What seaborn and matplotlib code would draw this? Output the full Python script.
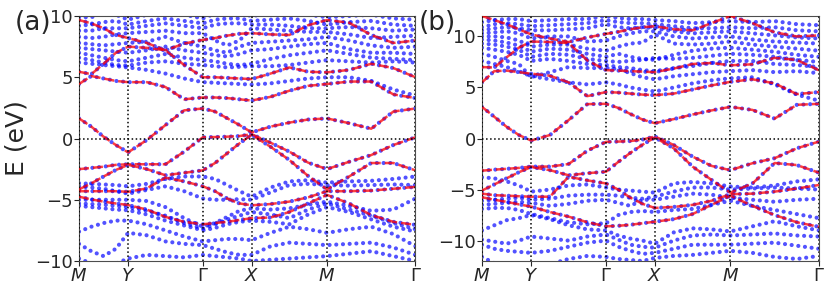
import numpy as np
import pandas as pd
import seaborn as sns
import matplotlib.pyplot as plt

sns.set_style("ticks")

# high-symmetry path: labels and node positions (fraction of total path length)
kpoints = ["$M$", "$Y$", r"$\Gamma$", "$X$", "$M$", r"$\Gamma$"]
knodes = [0.0, 0.146, 0.368, 0.513, 0.737, 1.0]
nsub = 4  # samples per segment, energies read at 0, 1/4, 1/2, 3/4 of each segment

# ---------------- panel (a) ----------------
# red dashed bands (sorted by energy at each k)
a_r1 = [-4.75, -4.97, -5.15, -5.3, -5.43, -5.8, -6.4, -6.8, -7.0, -6.9, -6.8, -6.65, -6.5, -6.45, -6.0, -5.3, -4.6, -5.3, -6.25, -6.8, -7.05]
a_r2 = [-4.3, -4.3, -4.3, -4.3, -4.35, -4.07, -3.2, -3.5, -3.9, -4.3, -4.9, -5.3, -5.45, -5.35, -5.15, -4.8, -4.3, -4.3, -4.25, -4.1, -3.95]
a_r3 = [-4.15, -3.66, -3.1, -2.57, -2.15, -2.5, -3.0, -2.8, -2.6, -2.0, -1.2, -0.4, 0.3, -0.67, -1.75, -3.06, -4.15, -3.1, -2.0, -2.0, -2.6]
a_r4 = [-2.5, -2.4, -2.3, -2.15, -2.1, -2.1, -2.1, -1.07, 0.1, 0.12, 0.15, 0.2, 0.35, -0.34, -1.07, -1.97, -2.5, -1.9, -1.35, -0.53, 0.1]
a_r5 = [1.64, 0.97, 0.15, -0.53, -1.13, -0.12, 1.1, 2.3, 2.45, 2.2, 1.65, 1.1, 0.5, 0.97, 1.3, 1.55, 1.64, 1.25, 0.8, 2.2, 2.45]
a_r6 = [4.45, 5.1, 4.9, 4.7, 4.6, 4.6, 4.2, 3.2, 3.35, 3.35, 3.3, 3.2, 3.1, 3.4, 3.9, 4.3, 4.45, 4.65, 4.65, 3.6, 3.3]
a_r7 = [5.45, 5.25, 6.1, 7.0, 7.5, 7.4, 7.2, 6.0, 5.0, 5.0, 4.95, 4.9, 4.85, 5.3, 5.8, 5.45, 5.4, 5.6, 6.1, 5.75, 5.0]
a_r8 = [9.67, 9.4, 9.0, 8.45, 8.2, 7.8, 7.2, 7.75, 8.05, 8.2, 8.4, 8.55, 8.6, 8.5, 8.45, 9.25, 9.67, 9.45, 8.45, 7.8, 8.0]
# extra blue-only bands
a_u1 = [6.2, 6.1, 6.0, 5.9, 5.8, 5.6, 5.3, 4.9, 4.6, 4.55, 4.5, 4.45, 4.4, 4.5, 4.7, 4.9, 5.0, 5.0, 4.7, 4.0, 3.5]
a_u2 = [6.6, 6.4, 6.2, 6.0, 5.95, 6.2, 6.3, 6.1, 6.0, 5.9, 5.8, 5.85, 5.9, 5.9, 6.0, 6.2, 6.4, 6.3, 6.2, 6.3, 6.2]
a_u3 = [7.0, 6.8, 6.6, 6.4, 6.3, 6.6, 6.9, 6.6, 6.4, 6.3, 6.1, 6.0, 6.1, 6.5, 6.8, 7.0, 7.2, 6.9, 6.6, 6.5, 6.4]
a_u4 = [7.4, 7.3, 7.2, 7.1, 7.0, 7.2, 7.5, 7.2, 7.0, 6.8, 6.7, 6.9, 7.2, 7.3, 7.5, 7.7, 7.8, 7.3, 7.0, 7.0, 6.9]
a_u5 = [7.8, 7.7, 7.6, 7.7, 7.8, 7.9, 8.3, 7.8, 7.5, 7.2, 7.0, 7.5, 7.8, 7.9, 8.0, 8.1, 8.3, 8.0, 7.6, 7.4, 7.5]
a_u6 = [8.3, 8.2, 8.3, 8.5, 8.6, 8.7, 8.8, 8.6, 8.6, 8.0, 7.6, 8.0, 9.0, 8.9, 8.8, 8.7, 8.7, 8.5, 8.2, 8.3, 8.4]
a_u7 = [8.8, 8.8, 9.0, 9.0, 9.0, 9.2, 9.4, 9.2, 9.0, 9.3, 9.4, 9.4, 9.3, 9.3, 9.2, 9.0, 9.0, 9.1, 9.0, 8.8, 8.9]
a_u8 = [9.2, 9.3, 9.5, 9.6, 9.3, 9.6, 9.8, 9.6, 9.4, 9.7, 9.8, 9.8, 9.6, 9.7, 9.8, 9.6, 9.3, 9.5, 9.6, 9.3, 9.2]
a_u9 = [9.9, 9.9, 10.2, 10.1, 9.7, 10.1, 10.3, 10.1, 9.8, 10.2, 10.3, 10.2, 10.0, 10.2, 10.3, 10.1, 9.9, 10.0, 10.1, 9.8, 9.7]
a_l1 = [-3.65, -3.7, -3.75, -3.8, -3.9, -3.7, -3.3, -3.1, -3.1, -3.3, -3.8, -4.3, -4.75, -4.0, -3.5, -3.4, -3.6, -3.5, -3.45, -3.3, -3.1]
a_l2 = [-3.9, -4.0, -4.1, -4.3, -4.5, -4.2, -3.9, -4.3, -4.9, -5.0, -5.0, -4.95, -5.0, -4.4, -3.8, -3.7, -3.8, -3.85, -3.8, -3.75, -3.8]
a_l3 = [-5.0, -5.0, -5.0, -5.0, -5.0, -5.1, -5.6, -6.5, -7.2, -6.9, -6.4, -5.9, -5.7, -5.8, -5.7, -5.4, -5.15, -5.5, -5.9, -5.8, -4.9]
a_l4 = [-5.3, -5.35, -5.4, -5.5, -5.6, -5.9, -6.3, -6.9, -7.35, -7.0, -6.6, -6.3, -6.0, -6.2, -6.5, -5.8, -5.3, -5.8, -6.3, -6.9, -7.4]
a_l5 = [-5.5, -5.6, -5.7, -5.8, -5.85, -6.2, -6.7, -7.1, -7.5, -7.3, -7.0, -6.8, -6.7, -6.8, -7.0, -6.2, -5.6, -6.0, -6.6, -7.2, -7.6]
a_l6 = [-7.6, -7.2, -6.9, -6.7, -6.7, -7.0, -7.5, -8.0, -8.4, -8.3, -8.2, -8.2, -8.3, -7.7, -7.2, -7.4, -7.7, -7.4, -7.2, -7.8, -8.8]
a_l7 = [-8.6, -9.2, -9.6, -9.0, -7.7, -7.9, -8.4, -8.6, -8.7, -9.0, -9.3, -9.5, -9.5, -8.8, -8.5, -8.6, -8.7, -8.6, -8.5, -8.9, -9.5]
a_l8 = [-9.8, -10.2, -10.5, -10.2, -9.8, -9.5, -9.6, -9.7, -9.5, -9.6, -9.7, -9.8, -10.0, -9.9, -9.8, -9.7, -9.6, -9.4, -9.2, -9.6, -10.0]

# ---------------- panel (b) ----------------
b_r1 = [-5.75, -6.0, -6.2, -6.45, -6.67, -7.2, -7.65, -8.2, -8.6, -8.55, -8.45, -8.3, -8.15, -7.9, -7.4, -6.5, -5.6, -6.6, -7.5, -8.2, -8.65]
b_r2 = [-5.4, -5.55, -5.6, -5.65, -5.7, -5.7, -3.75, -4.1, -4.4, -5.0, -5.8, -6.4, -6.8, -6.7, -6.5, -6.1, -5.45, -5.4, -5.2, -4.9, -4.55]
b_r3 = [-5.1, -4.5, -3.9, -3.3, -2.8, -3.1, -3.6, -3.4, -3.25, -2.3, -1.4, -0.6, 0.1, -0.96, -2.75, -4.05, -5.3, -4.4, -2.4, -2.6, -3.35]
b_r4 = [-3.15, -3.05, -2.97, -2.88, -2.75, -2.75, -2.5, -1.2, -0.33, -0.3, -0.25, -0.1, 0.2, -0.63, -1.77, -2.68, -3.1, -2.42, -1.93, -0.96, -0.3]
b_r5 = [3.1, 2.13, 1.15, 0.34, -0.2, 0.34, 1.8, 3.37, 3.4, 3.0, 2.4, 1.85, 1.5, 1.9, 2.35, 2.75, 3.1, 2.8, 1.95, 3.3, 3.4]
b_r6 = [5.5, 6.6, 6.65, 6.5, 6.35, 6.15, 5.5, 4.15, 4.55, 4.5, 4.4, 4.3, 4.25, 4.4, 4.8, 5.2, 5.55, 5.8, 5.4, 4.35, 4.55]
b_r7 = [7.0, 6.95, 7.95, 8.9, 9.5, 9.45, 9.35, 7.65, 6.7, 6.65, 6.6, 6.55, 6.5, 6.85, 7.3, 7.4, 7.17, 7.27, 7.9, 7.7, 6.68]
b_r8 = [12.0, 11.6, 11.2, 10.7, 10.2, 9.8, 9.45, 9.9, 10.25, 10.45, 10.7, 10.9, 11.0, 10.7, 10.6, 11.3, 12.0, 11.3, 10.4, 10.0, 10.1]
b_u1 = [7.6, 7.3, 7.0, 6.6, 6.1, 5.8, 5.5, 5.3, 5.5, 5.3, 5.0, 4.8, 4.6, 5.0, 5.4, 5.7, 5.9, 6.0, 5.3, 4.3, 3.7]
b_u2 = [8.3, 8.0, 7.6, 7.3, 6.0, 6.5, 7.0, 6.9, 6.9, 6.8, 6.4, 6.0, 5.8, 6.1, 6.3, 6.5, 6.6, 6.7, 6.5, 6.6, 6.4]
b_u3 = [8.9, 8.7, 8.5, 8.2, 7.6, 7.8, 7.6, 7.3, 7.2, 7.0, 6.9, 6.7, 6.6, 6.9, 7.1, 7.4, 7.6, 7.6, 7.3, 7.2, 7.0]
b_u4 = [9.3, 9.2, 9.0, 8.7, 8.0, 8.3, 8.2, 7.8, 7.6, 7.5, 7.6, 7.7, 7.9, 7.8, 7.9, 8.1, 8.3, 8.2, 8.0, 7.7, 7.5]
b_u5 = [9.7, 9.6, 9.4, 9.1, 8.5, 8.8, 8.7, 8.3, 8.0, 8.3, 8.0, 7.8, 7.7, 8.2, 8.6, 8.8, 8.9, 8.7, 8.5, 8.2, 8.0]
b_u6 = [10.0, 10.0, 9.9, 9.6, 9.0, 9.2, 9.2, 8.8, 8.6, 9.0, 9.3, 9.4, 10.2, 9.3, 9.2, 9.3, 9.5, 9.2, 9.0, 8.8, 8.6]
b_u7 = [10.3, 10.4, 10.5, 10.3, 9.8, 10.0, 10.0, 9.5, 9.6, 10.0, 10.3, 10.5, 10.5, 10.0, 9.8, 9.9, 10.0, 9.7, 9.5, 9.4, 9.3]
b_u8 = [10.6, 10.8, 10.9, 10.8, 10.6, 10.6, 10.7, 10.8, 11.2, 10.9, 10.8, 10.9, 10.8, 10.5, 10.3, 10.4, 10.5, 10.3, 10.1, 9.9, 9.8]
b_u9 = [10.9, 11.2, 11.3, 11.2, 11.0, 11.1, 11.2, 11.3, 11.6, 11.4, 11.3, 11.3, 11.2, 11.0, 10.8, 10.8, 10.9, 10.8, 10.9, 10.6, 10.5]
b_u10 = [11.4, 11.6, 11.7, 11.7, 11.5, 11.6, 11.7, 11.7, 12.0, 11.8, 11.7, 11.7, 11.6, 11.5, 11.3, 11.4, 11.5, 11.4, 11.5, 11.2, 11.1]
b_l1 = [-3.8, -3.9, -4.2, -4.6, -5.2, -5.0, -4.6, -4.5, -4.8, -5.0, -5.1, -5.2, -5.3, -4.4, -4.25, -4.4, -4.7, -4.8, -4.6, -4.2, -4.0]
b_l2 = [-6.1, -6.0, -5.9, -5.8, -6.0, -5.9, -5.6, -5.5, -5.5, -5.6, -5.8, -5.9, -5.7, -5.2, -4.8, -4.8, -5.0, -4.9, -4.8, -4.9, -5.0]
b_l3 = [-6.5, -6.4, -6.3, -6.2, -6.3, -6.6, -6.4, -6.1, -6.0, -6.3, -6.6, -6.0, -6.0, -5.7, -5.4, -5.5, -5.8, -6.0, -6.2, -6.0, -5.9]
b_l4 = [-6.9, -6.8, -6.8, -7.0, -7.4, -7.8, -8.2, -8.4, -8.3, -7.5, -7.2, -7.1, -7.2, -7.0, -6.9, -6.5, -6.1, -6.6, -7.0, -7.4, -7.8]
b_l5 = [-9.0, -8.5, -8.0, -7.8, -7.5, -7.9, -8.5, -8.9, -9.0, -9.5, -9.8, -10.0, -10.3, -9.2, -8.8, -8.9, -9.1, -8.6, -8.1, -8.6, -9.0]
b_l6 = [-9.9, -10.1, -10.3, -10.0, -9.6, -9.8, -10.0, -9.6, -9.4, -9.9, -10.4, -10.6, -10.7, -10.0, -9.5, -9.4, -9.5, -9.4, -9.3, -9.5, -9.6]
b_l7 = [-10.4, -10.8, -11.0, -11.1, -11.2, -11.0, -10.6, -10.2, -10.0, -10.6, -11.0, -11.3, -11.2, -10.8, -10.4, -10.4, -10.4, -10.3, -10.2, -10.5, -10.8]
b_l8 = [-11.6, -12.2, -12.5, -12.5, -12.5, -12.3, -11.8, -11.5, -11.6, -11.8, -11.9, -12.0, -11.7, -11.5, -11.4, -11.2, -11.0, -11.2, -11.6, -11.8, -11.5]

red_a = [a_r1, a_r2, a_r3, a_r4, a_r5, a_r6, a_r7, a_r8]
blue_a = red_a + [a_u1, a_u2, a_u3, a_u4, a_u5, a_u6, a_u7, a_u8, a_u9,
                  a_l1, a_l2, a_l3, a_l4, a_l5, a_l6, a_l7, a_l8]
red_b = [b_r1, b_r2, b_r3, b_r4, b_r5, b_r6, b_r7, b_r8]
blue_b = red_b + [b_u1, b_u2, b_u3, b_u4, b_u5, b_u6, b_u7, b_u8, b_u9, b_u10,
                  b_l1, b_l2, b_l3, b_l4, b_l5, b_l6, b_l7, b_l8]

# k position of every sample along the path
kgrid = np.concatenate([np.linspace(knodes[i], knodes[i + 1], nsub, endpoint=False)
                        for i in range(len(knodes) - 1)] + [[knodes[-1]]])


def band_frame(bands):
    rows = []
    for i, b in enumerate(bands):
        for k, e in zip(kgrid, b):
            rows.append((i, k, e))
    return pd.DataFrame(rows, columns=["band", "k", "E"])


def draw(ax, red, blue, ylim, yticks):
    # blue dots (all bands), red dashes on top
    sns.lineplot(data=band_frame(blue), x="k", y="E", units="band", estimator=None,
                 color="#0000ff", lw=3.0, linestyle=(0, (0.01, 1.6)), dash_capstyle="round",
                 alpha=0.68, ax=ax, zorder=2)
    sns.lineplot(data=band_frame(red), x="k", y="E", units="band", estimator=None,
                 color="red", lw=1.8, linestyle=(0, (4, 1.6)), alpha=0.75, ax=ax, zorder=3)
    for x in knodes:
        ax.axvline(x, color="k", ls=":", lw=1.1, zorder=4)
    ax.axhline(0, color="k", ls=":", lw=1.1, zorder=4)
    ax.set_xlim(0, 1)
    ax.set_ylim(*ylim)
    ax.set_yticks(yticks)
    ax.set_xticks(knodes)
    ax.set_xticklabels(kpoints)
    ax.tick_params(labelsize=13, pad=1)
    ax.set_xlabel("")
    ax.set_ylabel("")
    for s in ax.spines.values():
        s.set_color("0.3")


fig = plt.figure(figsize=(8.3, 2.91), dpi=100)
ax1 = fig.add_axes([0.0952, 0.103, 0.4054, 0.842])
ax2 = fig.add_axes([0.5807, 0.103, 0.406, 0.842])

draw(ax1, red_a, blue_a, (-10, 10), [-10, -5, 0, 5, 10])
draw(ax2, red_b, blue_b, (-12, 12), [-10, -5, 0, 5, 10])
ax1.set_ylabel("E (eV)", fontsize=18)
ax1.yaxis.set_label_coords(-0.15, 0.5)

fig.text(0.018, 0.92, "(a)", fontsize=19, va="center")
fig.text(0.504, 0.92, "(b)", fontsize=19, va="center")

fig.savefig("out.png", dpi=100)
